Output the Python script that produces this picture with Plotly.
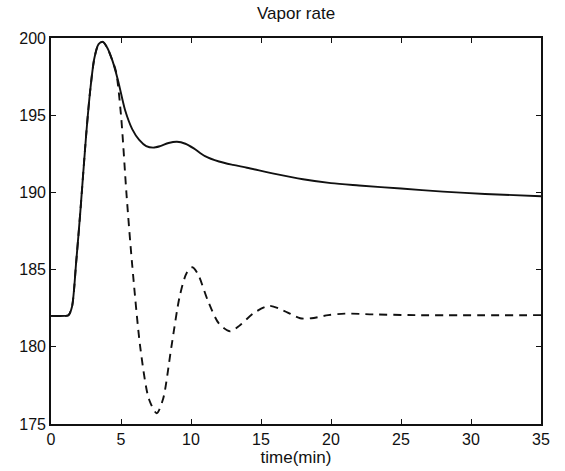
import plotly.graph_objects as go

# Vapor rate response, solid curve
t_solid = [0, 1.0, 1.25, 1.5, 1.8, 2.1, 2.5, 2.8, 3.1, 3.4, 3.7, 4.0, 4.4, 4.8,
           5.3, 5.8, 6.3, 6.8, 7.3, 7.8, 8.4, 9.0, 9.6, 10.2, 11.0, 12.0, 13.0,
           14.0, 16.0, 18.0, 20.0, 22.0, 25.0, 28.0, 31.0, 35.0]
v_solid = [182.0, 182.0, 182.05, 182.6, 185.5, 188.8, 193.6, 196.6, 198.7, 199.6,
           199.75, 199.4, 198.5, 197.2, 195.3, 194.1, 193.4, 193.0, 192.9, 193.0,
           193.2, 193.28, 193.15, 192.85, 192.35, 192.0, 191.78, 191.6, 191.2,
           190.85, 190.6, 190.45, 190.25, 190.05, 189.9, 189.75]

# Vapor rate response, dashed curve
t_dash = [0, 1.0, 1.25, 1.5, 1.8, 2.1, 2.5, 2.8, 3.1, 3.4, 3.7, 4.0, 4.4, 4.65,
          5.0, 5.4, 5.8, 6.4, 7.0, 7.55, 8.0, 8.6, 9.2, 9.7, 10.1, 10.5, 11.2,
          12.0, 12.8, 13.5, 14.5, 15.6, 16.6, 17.8, 18.6, 19.8, 21.0, 23.0,
          26.0, 35.0]
v_dash = [182.0, 182.0, 182.05, 182.6, 185.5, 188.8, 193.6, 196.6, 198.7, 199.6,
          199.75, 199.4, 198.5, 197.8, 195.0, 189.8, 185.3, 179.8, 176.6, 175.7,
          176.6, 180.0, 183.3, 184.8, 185.15, 184.7, 183.0, 181.5, 181.0, 181.4,
          182.2, 182.65, 182.35, 181.85, 181.85, 182.05, 182.15, 182.1, 182.05,
          182.05]

x_ticks = [0, 5, 10, 15, 20, 25, 30, 35]
y_ticks = [175, 180, 185, 190, 195, 200]

FONT = "Liberation Sans, Arial, sans-serif"
INK = "#111111"

fig = go.Figure()
fig.add_trace(go.Scatter(x=t_dash, y=v_dash, mode="lines",
                         line=dict(color=INK, width=1.9, dash="8px,6px",
                                   shape="spline", smoothing=0.8)))
fig.add_trace(go.Scatter(x=t_solid, y=v_solid, mode="lines",
                         line=dict(color=INK, width=1.9,
                                   shape="spline", smoothing=0.8)))

axis_common = dict(showgrid=False, zeroline=False, showline=True,
                   linecolor=INK, linewidth=1.6, mirror="ticks",
                   ticks="inside", ticklen=5, tickwidth=1.3, tickcolor=INK,
                   tickfont=dict(family=FONT, size=16, color=INK))

fig.update_layout(
    width=565, height=471,
    margin=dict(l=51, r=24, t=38, b=47),
    paper_bgcolor="white", plot_bgcolor="white",
    showlegend=False,
    title=dict(text="Vapor rate", x=0.524, xanchor="center", y=0.972,
               yanchor="middle", font=dict(family=FONT, size=17, color=INK)),
    xaxis=dict(range=[0, 35], tickvals=x_ticks,
               title=dict(text="time(min)", standoff=0,
                          font=dict(family=FONT, size=17, color=INK)),
               **axis_common),
    yaxis=dict(range=[175, 200], tickvals=y_ticks, **axis_common),
)

fig.write_html("out.html")
